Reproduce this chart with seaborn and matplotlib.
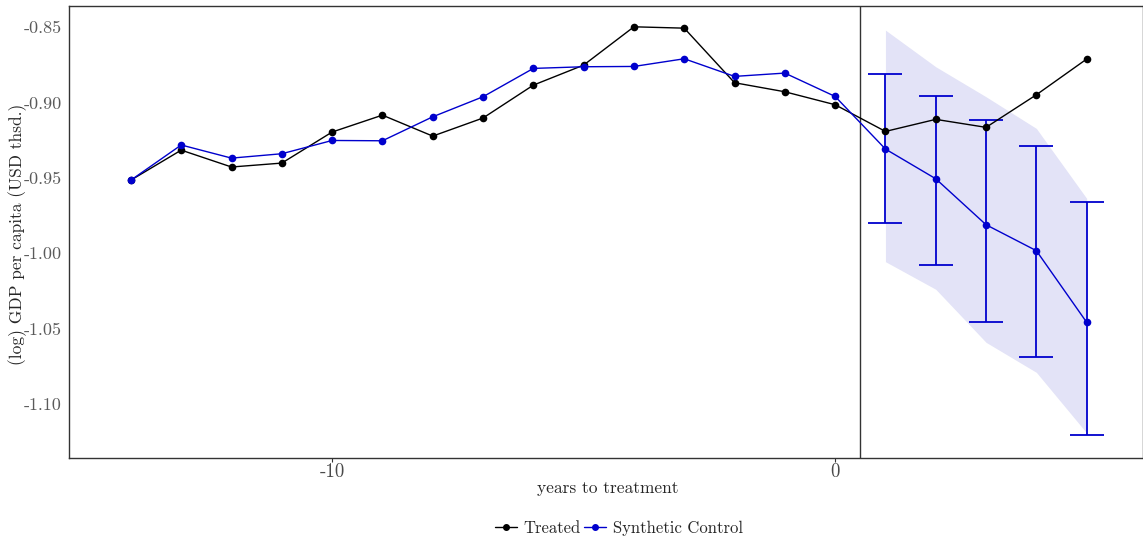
import numpy as np
import pandas as pd
import matplotlib
matplotlib.use("Agg")
import matplotlib.pyplot as plt
import seaborn as sns
from matplotlib.lines import Line2D

years = list(range(-14, 6))
treated = [-0.9515, -0.9316, -0.9428, -0.9402, -0.9196, -0.9084, -0.9223, -0.9103,
           -0.8885, -0.8752, -0.8498, -0.8507, -0.8869, -0.8929, -0.9015,
           -0.9192, -0.9112, -0.9165, -0.8949, -0.8712]
synthetic = [-0.9515, -0.9282, -0.9369, -0.9340, -0.9252, -0.9254, -0.9095, -0.8962,
             -0.8774, -0.8763, -0.8761, -0.8710, -0.8827, -0.8805, -0.8960,
             -0.9309, -0.9506, -0.9811, -0.9983, -1.0458]
post_years = [1, 2, 3, 4, 5]
err_hi = [-0.8810, -0.8956, -0.9117, -0.9287, -0.9663]
err_lo = [-0.9798, -1.0080, -1.0456, -1.0690, -1.1208]
band_hi = [-0.8520, -0.8763, -0.8962, -0.9172, -0.9636]
band_lo = [-1.0056, -1.0239, -1.0591, -1.0790, -1.1192]
y_ticks = [-0.85, -0.90, -0.95, -1.00, -1.05, -1.10]
y_tick_labels = ["-0.85", "-0.90", "-0.95", "-1.00", "-1.05", "-1.10"]
x_ticks = [-10, 0]
x_tick_labels = ["-10", "0"]
treat_line = 0.5

sns.set_style("white")
plt.rcParams['font.family'] = ['cmr10', 'DejaVu Serif']
plt.rcParams['axes.unicode_minus'] = False
plt.rcParams['mathtext.fontset'] = 'cm'

BLUE = "#0000CD"
df = pd.DataFrame({
    "year": years * 2,
    "value": treated + synthetic,
    "series": ["Treated"] * len(years) + ["Synthetic Control"] * len(years),
})

fig = plt.figure(figsize=(11.43, 5.4), dpi=100)
ax = fig.add_axes([0.0604, 0.1519, 0.9396, 0.837])

ax.fill_between(post_years, band_lo, band_hi, color="#E3E3F7", linewidth=0, zorder=1)

sns.lineplot(data=df, x="year", y="value", hue="series",
             palette={"Treated": "black", "Synthetic Control": BLUE},
             marker="o", markersize=5.5, markeredgewidth=0, linewidth=1.0,
             legend=False, ax=ax, zorder=3)

mid = [(h + l) / 2 for h, l in zip(err_hi, err_lo)]
yerr = [[m - l for m, l in zip(mid, err_lo)], [h - m for h, m in zip(err_hi, mid)]]
ax.errorbar(post_years, mid, yerr=yerr, fmt="none", ecolor=BLUE, elinewidth=1.3,
            capsize=12.5, capthick=1.3, zorder=2)

ax.axvline(treat_line, color="#333333", linewidth=1.0, zorder=2)

ax.set_xlim(-15.23, 6.12)
ax.set_ylim(-1.1358, -0.836)
ax.set_yticks(y_ticks)
ax.set_yticklabels(y_tick_labels, fontsize=13, color="#5a5a5a")
ax.set_xticks(x_ticks)
ax.set_xticklabels(x_tick_labels, fontsize=13.5, color="#4a4a4a")
ax.tick_params(axis="x", length=3, color="#333333", width=0.8, direction="out",
               bottom=True, pad=1)
ax.tick_params(axis="y", length=0, pad=5)
for s in ax.spines.values():
    s.set_color("#333333")
    s.set_linewidth(1.0)

ax.set_xlabel("years to treatment", fontsize=12.5)
ax.set_ylabel("(log) GDP per capita (USD thsd.)", fontsize=12.5)
ax.xaxis.set_label_coords(0.502, -0.068, transform=ax.transAxes)
ax.xaxis.label.set_verticalalignment("center")
ax.yaxis.set_label_coords(-0.0475, 0.4956, transform=ax.transAxes)
ax.yaxis.label.set_verticalalignment("center")

handles = [Line2D([0], [0], color="black", marker="o", markersize=4, linewidth=1.0),
           Line2D([0], [0], color=BLUE, marker="o", markersize=4, linewidth=1.0)]
fig.legend(handles, ["Treated", "Synthetic Control"], loc="center",
           bbox_to_anchor=(0.5416, 0.022), ncol=2, frameon=False, fontsize=12,
           handlelength=1.3, handletextpad=0.4, columnspacing=0.2)

fig.savefig("out.png", dpi=100)
